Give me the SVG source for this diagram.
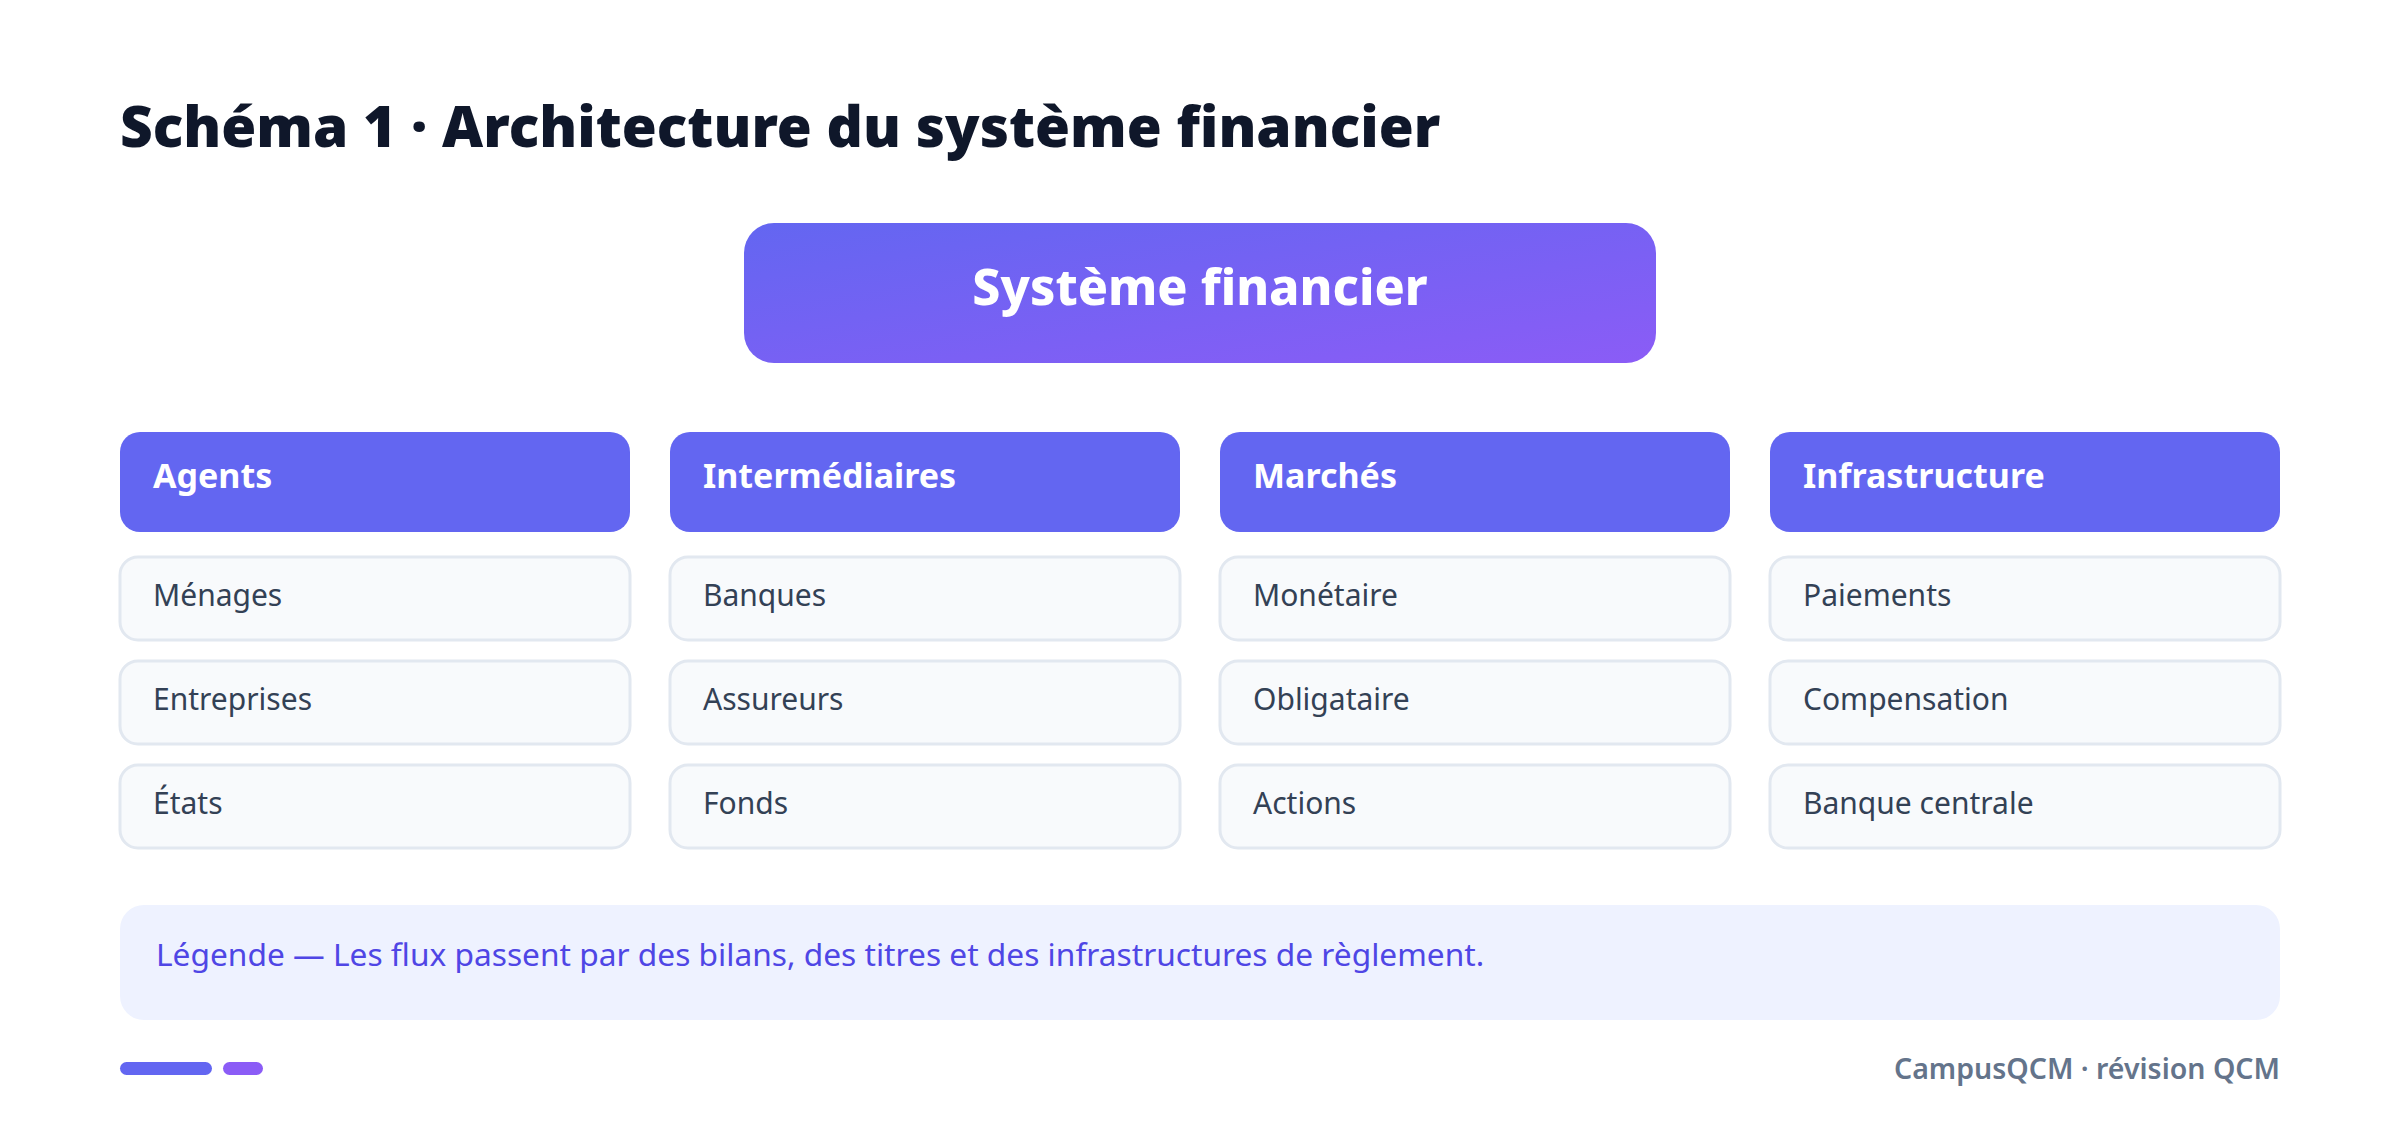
<svg xmlns="http://www.w3.org/2000/svg" width="2400" height="1130" viewBox="0 0 2400 1130">
<defs>
<linearGradient id="gTop" x1="0" y1="0" x2="1" y2="1">
<stop offset="0" stop-color="#6366f1"/>
<stop offset="1" stop-color="#8b5cf6"/>
</linearGradient>
<style>
.title{font-family:"Noto Sans","Liberation Sans",sans-serif;font-weight:900;font-size:56.7px;fill:#0f172a}
.topt{font-family:"Noto Sans","Liberation Sans",sans-serif;font-weight:800;font-size:50px;fill:#ffffff}
.hdr{fill:#6366f1}
.hdrt{font-family:"Noto Sans","Liberation Sans",sans-serif;font-weight:700;font-size:34px;fill:#ffffff}
.item{fill:#f8fafc;stroke:#e2e8f0;stroke-width:3}
.itemt{font-family:"Noto Sans","Liberation Sans",sans-serif;font-size:30px;fill:#334155}
.leg{fill:#eef2ff}
.legt{font-family:"Noto Sans","Liberation Sans",sans-serif;font-size:31.7px;fill:#4f46e5}
.foot{font-family:"Noto Sans","Liberation Sans",sans-serif;font-weight:600;font-size:28.5px;fill:#64748b}
</style>
</defs>
<rect width="2400" height="1130" fill="#ffffff"/>
<text class="title" x="120" y="147">Schéma 1 · Architecture du système financier</text>
<g id="node-systeme">
<rect x="744" y="223" width="912" height="140" rx="30" fill="url(#gTop)"/>
<text class="topt" x="1200" y="305" text-anchor="middle">Système financier</text>
</g>
<g id="col-agents">
<g id="node-agents"><rect class="hdr" x="120" y="432" width="510" height="100" rx="20"/><text class="hdrt" x="153" y="488">Agents</text></g>
<g id="node-menages"><rect class="item" x="120" y="557" width="510" height="83" rx="18"/><text class="itemt" x="153" y="606">Ménages</text></g>
<g id="node-entreprises"><rect class="item" x="120" y="661" width="510" height="83" rx="18"/><text class="itemt" x="153" y="710">Entreprises</text></g>
<g id="node-etats"><rect class="item" x="120" y="765" width="510" height="83" rx="18"/><text class="itemt" x="153" y="814">États</text></g>
</g>
<g id="col-intermediaires">
<g id="node-intermediaires"><rect class="hdr" x="670" y="432" width="510" height="100" rx="20"/><text class="hdrt" x="703" y="488">Intermédiaires</text></g>
<g id="node-banques"><rect class="item" x="670" y="557" width="510" height="83" rx="18"/><text class="itemt" x="703" y="606">Banques</text></g>
<g id="node-assureurs"><rect class="item" x="670" y="661" width="510" height="83" rx="18"/><text class="itemt" x="703" y="710">Assureurs</text></g>
<g id="node-fonds"><rect class="item" x="670" y="765" width="510" height="83" rx="18"/><text class="itemt" x="703" y="814">Fonds</text></g>
</g>
<g id="col-marches">
<g id="node-marches"><rect class="hdr" x="1220" y="432" width="510" height="100" rx="20"/><text class="hdrt" x="1253" y="488">Marchés</text></g>
<g id="node-monetaire"><rect class="item" x="1220" y="557" width="510" height="83" rx="18"/><text class="itemt" x="1253" y="606">Monétaire</text></g>
<g id="node-obligataire"><rect class="item" x="1220" y="661" width="510" height="83" rx="18"/><text class="itemt" x="1253" y="710">Obligataire</text></g>
<g id="node-actions"><rect class="item" x="1220" y="765" width="510" height="83" rx="18"/><text class="itemt" x="1253" y="814">Actions</text></g>
</g>
<g id="col-infrastructure">
<g id="node-infrastructure"><rect class="hdr" x="1770" y="432" width="510" height="100" rx="20"/><text class="hdrt" x="1803" y="488">Infrastructure</text></g>
<g id="node-paiements"><rect class="item" x="1770" y="557" width="510" height="83" rx="18"/><text class="itemt" x="1803" y="606">Paiements</text></g>
<g id="node-compensation"><rect class="item" x="1770" y="661" width="510" height="83" rx="18"/><text class="itemt" x="1803" y="710">Compensation</text></g>
<g id="node-banquecentrale"><rect class="item" x="1770" y="765" width="510" height="83" rx="18"/><text class="itemt" x="1803" y="814">Banque centrale</text></g>
</g>
<g id="connectors"></g>
<g id="legend">
<rect class="leg" x="120" y="905" width="2160" height="115" rx="24"/>
<text class="legt" x="156" y="966">Légende — Les flux passent par des bilans, des titres et des infrastructures de règlement.</text>
</g>
<g id="footer">
<rect x="120" y="1062" width="92" height="13" rx="6.5" fill="#6366f1"/>
<rect x="223" y="1062" width="40" height="13" rx="6.5" fill="#8b5cf6"/>
<text class="foot" x="2280" y="1079" text-anchor="end">CampusQCM · révision QCM</text>
</g>
</svg>
